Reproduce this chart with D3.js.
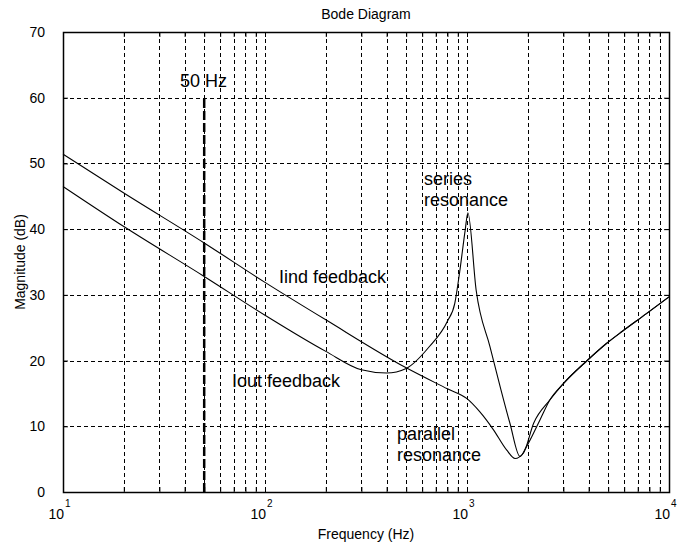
<!DOCTYPE html>
<html lang="en">
<head>
<meta charset="UTF-8">
<title>Bode Diagram</title>
<script src="https://d3js.org/d3.v7.min.js"></script>
<style>
  body { margin: 0; background: #fff; }
  svg { font-family: "Liberation Sans", Arial, sans-serif; }
</style>
</head>
<body>
<svg id="chart" width="692" height="550"></svg>
<script>
// magnitude response with inductor current feedback (Hz, dB)
const iindFreq = [10, 20, 50, 100, 200, 500, 800, 1000, 1150, 1350, 1570, 1730, 1900, 2140, 2570, 3000, 3900, 4900, 5900, 7700, 10000]
const iindMag  = [51.4, 45.5, 37.9, 31.9, 26.2, 18.9, 15.7, 14.2, 12.3, 9.5, 6.4, 5.1, 5.9, 10.5, 14.0, 16.5, 19.9, 22.6, 24.5, 27.1, 29.7]

// magnitude response with output current feedback (Hz, dB)
const ioutFreq = [10, 20, 50, 100, 200, 300, 400, 500, 650, 800, 870, 920, 980, 1010, 1110, 1300, 1460, 1630, 1830, 1970, 2300, 2570, 3000, 3900, 4900, 5900, 7700, 10000]
const ioutMag  = [46.5, 40.4, 32.8, 26.9, 21.4, 18.6, 18.1, 18.8, 22.1, 26.0, 28.7, 33.5, 39.9, 42.5, 30.7, 22.1, 16.0, 10.5, 5.4, 6.9, 11.0, 14.0, 16.5, 19.9, 22.6, 24.5, 27.1, 29.7]

const yTickValues = [0, 10, 20, 30, 40, 50, 60, 70]
const decadeExponents = [1, 2, 3, 4]
const markerFreq = 50
const markerTop = 60

// chart dimensions
const dims = { width: 692, height: 550, margin: { top: 32, right: 23, bottom: 58, left: 63 } }
dims.boundedWidth = dims.width - dims.margin.left - dims.margin.right
dims.boundedHeight = dims.height - dims.margin.top - dims.margin.bottom

const svg = d3.select("#chart")
const bounds = svg.append("g")
    .attr("transform", `translate(${dims.margin.left},${dims.margin.top})`)

// scales
const xScale = d3.scaleLog().domain([10, 10000]).range([0, dims.boundedWidth])
const yScale = d3.scaleLinear().domain([0, 70]).range([dims.boundedHeight, 0])

// every 1..9 step of each decade
const logTicks = []
for (let d = 1; d < 4; d++) {
    for (let k = 1; k < 10; k++) logTicks.push(k * Math.pow(10, d))
}
logTicks.push(10000)

// dashed grid
const grid = bounds.append("g")
    .attr("stroke", "#000")
    .attr("stroke-width", 1)
    .attr("stroke-dasharray", "4,3")
grid.selectAll("line.v")
    .data(logTicks.filter(f => f > 10 && f < 10000))
    .join("line")
    .attr("class", "v")
    .attr("x1", d => Math.round(xScale(d)) + 0.5)
    .attr("x2", d => Math.round(xScale(d)) + 0.5)
    .attr("y1", 0)
    .attr("y2", dims.boundedHeight)
grid.selectAll("line.h")
    .data(yTickValues.filter(v => v > 0 && v < 70))
    .join("line")
    .attr("class", "h")
    .attr("x1", 0)
    .attr("x2", dims.boundedWidth)
    .attr("y1", d => Math.round(yScale(d)) + 0.5)
    .attr("y2", d => Math.round(yScale(d)) + 0.5)

// 50 Hz marker
bounds.append("line")
    .attr("x1", xScale(markerFreq))
    .attr("x2", xScale(markerFreq))
    .attr("y1", yScale(0))
    .attr("y2", yScale(markerTop))
    .attr("stroke", "#000")
    .attr("stroke-width", 2.5)
    .attr("stroke-dasharray", "9,3")

// inward ticks on all four sides
const tickGen = (axis, scale, values, size) => axis(scale).tickValues(values).tickSize(size).tickFormat("")
const axisStyle = g => {
    g.select(".domain").remove()
    g.selectAll(".tick line").attr("stroke", "#000")
}
bounds.append("g").attr("transform", `translate(0,${dims.boundedHeight})`)
    .call(tickGen(d3.axisBottom, xScale, logTicks, -5)).call(axisStyle)
bounds.append("g")
    .call(tickGen(d3.axisTop, xScale, logTicks, -5)).call(axisStyle)
bounds.append("g")
    .call(tickGen(d3.axisLeft, yScale, yTickValues, -5)).call(axisStyle)
bounds.append("g").attr("transform", `translate(${dims.boundedWidth},0)`)
    .call(tickGen(d3.axisRight, yScale, yTickValues, -5)).call(axisStyle)

// curves
const lineGen = d3.line()
    .x(d => xScale(d[0]))
    .y(d => yScale(d[1]))
    .curve(d3.curveMonotoneX)

bounds.append("path")
    .attr("d", lineGen(d3.zip(iindFreq, iindMag)))
    .attr("fill", "none")
    .attr("stroke", "#000")
    .attr("stroke-width", 1.1)

bounds.append("path")
    .attr("d", lineGen(d3.zip(ioutFreq, ioutMag)))
    .attr("fill", "none")
    .attr("stroke", "#000")
    .attr("stroke-width", 1.1)

// plot frame
bounds.append("rect")
    .attr("x", 0.5)
    .attr("y", 0.5)
    .attr("width", dims.boundedWidth)
    .attr("height", dims.boundedHeight)
    .attr("fill", "none")
    .attr("stroke", "#000")
    .attr("stroke-width", 1.5)

// y tick labels
bounds.selectAll("text.ylab")
    .data(yTickValues)
    .join("text")
    .attr("class", "ylab")
    .attr("x", -18)
    .attr("y", d => yScale(d))
    .attr("dy", "0.36em")
    .attr("text-anchor", "end")
    .attr("font-size", 14)
    .text(d => d)

// x tick labels as powers of ten
const xLabels = bounds.selectAll("g.xlab")
    .data(decadeExponents)
    .join("g")
    .attr("class", "xlab")
    .attr("transform", d => `translate(${xScale(Math.pow(10, d))},${dims.boundedHeight})`)
xLabels.append("text")
    .attr("x", 1)
    .attr("y", 27)
    .attr("text-anchor", "end")
    .attr("font-size", 14)
    .text("10")
xLabels.append("text")
    .attr("x", 2)
    .attr("y", 15)
    .attr("font-size", 10)
    .text(d => d)

// titles
svg.append("text")
    .attr("x", dims.margin.left + dims.boundedWidth / 2)
    .attr("y", 19)
    .attr("text-anchor", "middle")
    .attr("font-size", 14)
    .text("Bode Diagram")

svg.append("text")
    .attr("x", dims.margin.left + dims.boundedWidth / 2)
    .attr("y", 539)
    .attr("text-anchor", "middle")
    .attr("font-size", 14)
    .text("Frequency (Hz)")

svg.append("text")
    .attr("transform", `translate(25,${dims.margin.top + dims.boundedHeight / 2}) rotate(-90)`)
    .attr("text-anchor", "middle")
    .attr("font-size", 14)
    .text("Magnitude (dB)")

// annotations
const notes = [
    { text: "50 Hz", x: 180, y: 87 },
    { text: "Iind feedback", x: 279, y: 283 },
    { text: "Iout feedback", x: 232, y: 387 },
    { text: "series", x: 424, y: 185 },
    { text: "resonance", x: 424, y: 206 },
    { text: "parallel", x: 397, y: 440 },
    { text: "resonance", x: 397, y: 461 }
]
svg.selectAll("text.note")
    .data(notes)
    .join("text")
    .attr("class", "note")
    .attr("x", d => d.x)
    .attr("y", d => d.y)
    .attr("font-size", 18)
    .text(d => d.text)
</script>
</body>
</html>
